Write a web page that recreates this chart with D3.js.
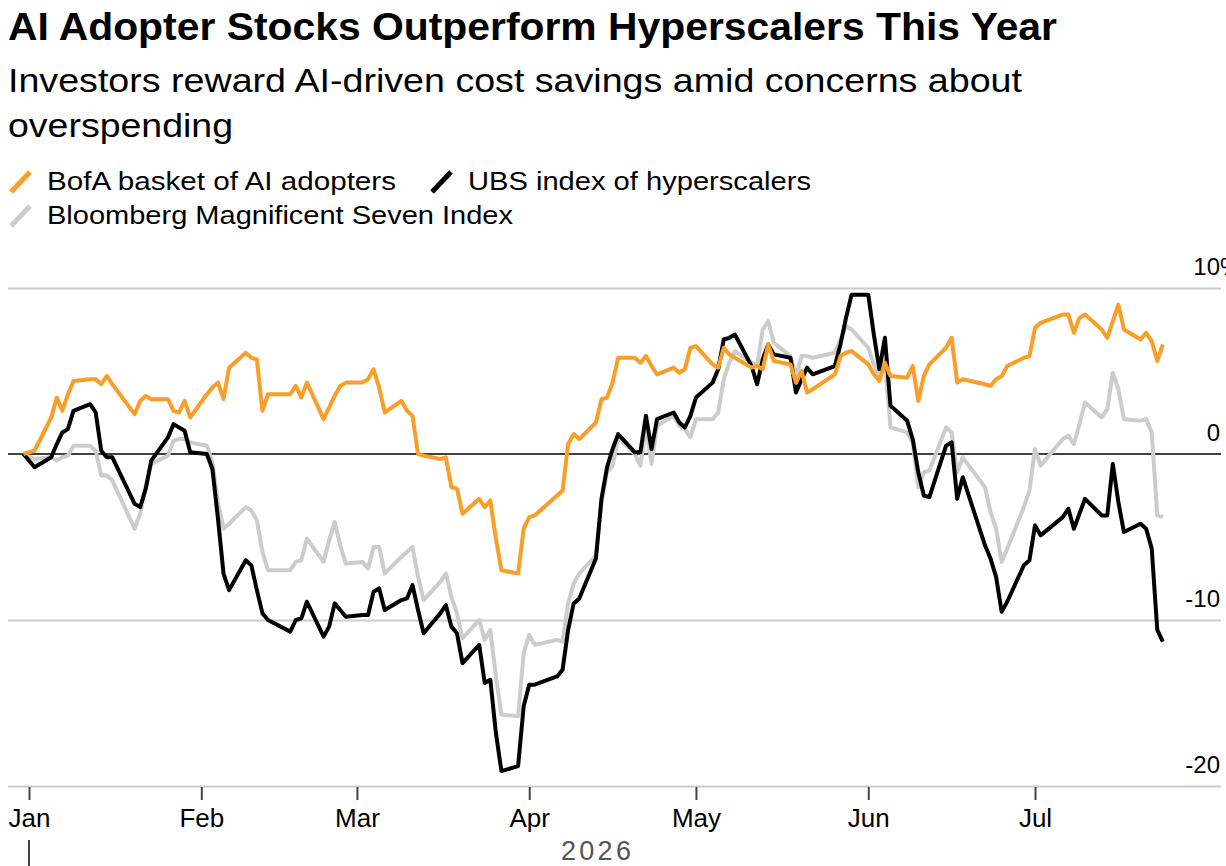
<!DOCTYPE html>
<html>
<head>
<meta charset="utf-8">
<script src="https://cdn.jsdelivr.net/npm/d3@7"></script>
<style>
  body { margin: 0; background: #fff; }
  svg { display: block; font-family: "Liberation Sans", Arial, sans-serif; }
</style>
</head>
<body>
<div id="chart"></div>
<script>
// Trading days, 2025-12-31 base date through 2026-07-24
var dates = [
  "2025-12-31",
  "2026-01-02","2026-01-05","2026-01-06","2026-01-07","2026-01-08","2026-01-09","2026-01-12","2026-01-13","2026-01-14","2026-01-15",
  "2026-01-16","2026-01-20","2026-01-21","2026-01-22","2026-01-23","2026-01-26","2026-01-27","2026-01-28","2026-01-29","2026-01-30",
  "2026-02-02","2026-02-03","2026-02-04","2026-02-05","2026-02-06","2026-02-09","2026-02-10","2026-02-11","2026-02-12","2026-02-13",
  "2026-02-17","2026-02-18","2026-02-19","2026-02-20","2026-02-23","2026-02-24","2026-02-25","2026-02-26","2026-02-27",
  "2026-03-02","2026-03-03","2026-03-04","2026-03-05","2026-03-06","2026-03-09","2026-03-10","2026-03-11","2026-03-12","2026-03-13",
  "2026-03-16","2026-03-17","2026-03-18","2026-03-19","2026-03-20","2026-03-23","2026-03-24","2026-03-25","2026-03-26","2026-03-27",
  "2026-03-30","2026-03-31",
  "2026-04-01","2026-04-02","2026-04-06","2026-04-07","2026-04-08","2026-04-09","2026-04-10","2026-04-13","2026-04-14","2026-04-15",
  "2026-04-16","2026-04-17","2026-04-20","2026-04-21","2026-04-22","2026-04-23","2026-04-24","2026-04-27","2026-04-28","2026-04-29",
  "2026-04-30",
  "2026-05-01","2026-05-04","2026-05-05","2026-05-06","2026-05-07","2026-05-08","2026-05-11","2026-05-12","2026-05-13","2026-05-14",
  "2026-05-15","2026-05-18","2026-05-19","2026-05-20","2026-05-21","2026-05-22","2026-05-26","2026-05-27","2026-05-28","2026-05-29",
  "2026-06-01","2026-06-02","2026-06-03","2026-06-04","2026-06-05","2026-06-08","2026-06-09","2026-06-10","2026-06-11","2026-06-12",
  "2026-06-15","2026-06-16","2026-06-17","2026-06-18","2026-06-22","2026-06-23","2026-06-24","2026-06-25","2026-06-26","2026-06-29",
  "2026-06-30",
  "2026-07-01","2026-07-02","2026-07-06","2026-07-07","2026-07-08","2026-07-09","2026-07-10","2026-07-13","2026-07-14","2026-07-15",
  "2026-07-16","2026-07-17","2026-07-20","2026-07-21","2026-07-22","2026-07-23","2026-07-24"
];

// % change since year start
var bofaAdopters = [
  0,
  0.2, 2.2, 3.4, 2.6, 3.6, 4.4, 4.5, 4.5, 4.2, 4.7, 4.2, 2.4, 3.2, 3.5, 3.3, 3.3, 2.6, 2.5, 3.2, 2.2,
  3.6, 4.0, 4.3, 3.3, 5.2, 6.1, 5.8, 5.7, 2.6, 3.6, 3.6, 4.1, 3.4, 4.3, 2.1, 2.8, 3.5, 4.1, 4.3,
  4.3, 4.5, 5.1, 4.0, 2.5, 3.2, 2.6, 2.3, 0.0, -0.1, -0.3, -0.2, -2.0, -2.1, -3.6, -2.7, -3.2, -2.8, -5.1, -7.0, -7.2, -4.5,
  -3.8, -3.7, -2.5, -2.2, 0.6, 1.2, 0.9, 1.9, 3.3, 3.4, 4.3, 5.8, 5.8, 5.5, 5.9, 5.3, 4.8, 5.2, 4.9, 5.1, 6.4,
  6.5, 5.4, 5.2, 6.4, 6.0, 5.8, 5.2, 5.3, 5.1, 6.6, 5.6, 5.4, 4.3, 5.0, 3.7, 3.9, 4.8, 5.9, 6.1, 6.2,
  5.4, 4.8, 4.4, 5.5, 4.7, 4.6, 5.3, 3.2, 4.7, 5.4, 6.4, 7.0, 4.3, 4.5, 4.2, 4.1, 4.5, 4.7, 5.3, 5.8, 5.9,
  7.6, 7.9, 8.4, 8.4, 7.3, 8.2, 8.4, 7.5, 7.0, 8.0, 9.0, 7.5, 6.9, 7.3, 6.8, 5.6, 6.6
];
var ubsHyperscalers = [
  0,
  -0.8, -0.2, 0.6, 1.3, 1.5, 2.6, 3.0, 2.5, 0.2, -0.2, -0.2, -3.0, -3.2, -2.1, -0.4, 1.0, 1.8, 1.6, 1.4, 0.1,
  0.0, -0.9, -3.9, -7.2, -8.2, -6.4, -6.7, -8.2, -9.6, -10.0, -10.7, -10.0, -9.9, -8.9, -11.0, -10.4, -9.0, -9.4, -9.8,
  -9.7, -9.7, -8.3, -8.1, -9.4, -8.8, -8.7, -7.9, -9.4, -10.8, -9.6, -9.1, -10.4, -10.8, -12.6, -11.5, -13.8, -13.6, -16.8, -19.1, -18.8, -15.2,
  -13.9, -13.9, -13.4, -13.0, -10.6, -9.0, -8.7, -6.3, -2.7, -0.8, 0.3, 1.2, 0.1, 0.1, 2.3, 0.3, 2.1, 2.5, 1.9, 1.6, 2.3,
  3.4, 4.3, 5.1, 6.9, 7.0, 7.2, 5.3, 4.2, 5.7, 6.6, 6.0, 5.8, 3.7, 4.5, 5.2, 4.8, 5.3, 6.6, 8.2, 9.6,
  9.6, 7.2, 5.1, 7.0, 2.9, 2.0, 0.9, -1.1, -2.5, -2.6, 0.5, 0.7, -2.7, -1.4, -5.5, -6.3, -7.4, -9.5, -8.9, -6.7, -6.4,
  -4.3, -4.9, -3.8, -3.3, -4.5, -3.6, -2.7, -3.7, -3.7, -0.6, -2.9, -4.7, -4.2, -4.5, -5.7, -10.6, -11.3
];
var mag7Index = [
  0,
  -0.3, -0.2, -0.4, -0.2, -0.1, 0.5, 0.5, 0.2, -1.3, -1.3, -1.6, -4.5, -3.6, -1.9, -0.6, -0.1, 0.8, 0.9, 0.9, 0.7,
  0.5, -0.5, -2.9, -4.5, -4.2, -3.2, -3.4, -4.0, -5.9, -7.0, -7.0, -6.5, -6.4, -5.1, -6.5, -5.2, -4.1, -5.5, -6.6,
  -6.5, -6.9, -5.6, -5.6, -7.2, -6.2, -5.9, -5.6, -7.4, -8.8, -7.7, -7.2, -8.6, -9.6, -11.1, -10.0, -11.2, -10.6, -13.4, -15.7, -15.8, -12.0,
  -10.9, -11.5, -11.2, -11.3, -9.0, -7.8, -7.2, -6.1, -2.9, -1.1, -0.7, 1.0, 0.0, -0.7, 1.7, -0.6, 1.7, 2.3, 1.7, 1.5, 1.0,
  2.1, 2.1, 2.5, 4.5, 5.5, 6.2, 5.5, 5.3, 7.5, 8.0, 6.7, 5.9, 4.7, 5.9, 5.9, 5.8, 6.1, 6.9, 7.7, 7.5,
  6.4, 5.4, 4.5, 5.6, 1.6, 1.3, 0.7, -2.0, -1.1, -1.0, 1.6, 1.3, -1.1, -0.2, -2.0, -3.5, -4.5, -6.5, -5.7, -3.2, -2.2,
  0.3, -0.7, 0.9, 1.1, 0.6, 1.8, 3.1, 2.2, 2.7, 4.9, 3.9, 2.1, 2.0, 2.1, 1.3, -3.7, -3.8
];

var seriesNames = ["BofA basket of AI adopters", "UBS index of hyperscalers", "Bloomberg Magnificent Seven Index"];
var seriesColors = ["#f99e27", "#000000", "#cccccc"];
var yTicks = [10, 0, -10, -20];
var monthTicks = ["2026-01-01","2026-02-01","2026-03-01","2026-04-01","2026-05-01","2026-06-01","2026-07-01"];
var yearLabel = "2026";

var svgWidth = 1226;
var svgHeight = 866;

var svg = d3.select("#chart")
  .append("svg")
  .attr("width", svgWidth)
  .attr("height", svgHeight);

var parseDate = d3.timeParse("%Y-%m-%d");
var dateObjs = dates.map(parseDate);

// Scales
var xScale = d3.scaleTime()
  .domain([parseDate("2026-01-01"), parseDate("2026-07-01")])
  .range([29, 1035]);

var yScale = d3.scaleLinear()
  .domain([-20, 10])
  .range([786, 288]);

var gridLeft = 8, gridRight = 1221;

// Title / subtitle
svg.append("text")
  .attr("x", 8).attr("y", 40)
  .attr("font-size", 38).attr("font-weight", "bold")
  .attr("textLength", 1049).attr("lengthAdjust", "spacingAndGlyphs")
  .text("AI Adopter Stocks Outperform Hyperscalers This Year");

svg.append("text")
  .attr("x", 8).attr("y", 92)
  .attr("font-size", 34)
  .attr("textLength", 1014).attr("lengthAdjust", "spacingAndGlyphs")
  .text("Investors reward AI-driven cost savings amid concerns about");

svg.append("text")
  .attr("x", 8).attr("y", 137)
  .attr("font-size", 34)
  .attr("textLength", 225).attr("lengthAdjust", "spacingAndGlyphs")
  .text("overspending");

// Legend
var legendItems = [
  { x: 10, y: 190, w: 349 },
  { x: 431, y: 190, w: 343 },
  { x: 10, y: 224, w: 466 }
];
legendItems.forEach(function(item, i) {
  svg.append("line")
    .attr("x1", item.x + 1).attr("y1", item.y + 2)
    .attr("x2", item.x + 20).attr("y2", item.y - 18)
    .attr("stroke", seriesColors[i])
    .attr("stroke-width", 5);
  svg.append("text")
    .attr("x", item.x + 37).attr("y", item.y)
    .attr("font-size", 26)
    .attr("textLength", item.w).attr("lengthAdjust", "spacingAndGlyphs")
    .text(seriesNames[i]);
});

// Gridlines
var gridAxis = d3.axisLeft(yScale)
  .tickValues(yTicks.filter(function(d) { return d !== 0; }))
  .tickSize(gridRight - gridLeft)
  .tickFormat("");

svg.append("g")
  .attr("transform", `translate(${gridRight},0)`)
  .call(gridAxis)
  .call(function(g) {
    g.select(".domain").remove();
    g.selectAll(".tick line").attr("stroke", "#cccccc").attr("stroke-width", 2);
  });

// Zero line
svg.append("line")
  .attr("x1", gridLeft).attr("x2", gridRight)
  .attr("y1", yScale(0)).attr("y2", yScale(0))
  .attr("stroke", "#000").attr("stroke-width", 1.5);

// Y labels
var yLabelAxis = d3.axisLeft(yScale)
  .tickValues(yTicks)
  .tickSize(0)
  .tickPadding(0)
  .tickFormat(function(d) { return String(d); });

svg.append("g")
  .attr("transform", "translate(1220,0)")
  .call(yLabelAxis)
  .call(function(g) {
    g.select(".domain").remove();
    g.selectAll(".tick text")
      .attr("font-family", "Liberation Sans, Arial, sans-serif")
      .attr("font-size", 24)
      .attr("fill", "#000")
      .attr("dy", -14);
    g.selectAll(".tick").filter(function(d) { return d === 10; })
      .append("text")
      .attr("x", 0).attr("dy", -14)
      .attr("text-anchor", "start")
      .attr("font-family", "Liberation Sans, Arial, sans-serif")
      .attr("font-size", 24)
      .attr("fill", "#000")
      .text("%");
  });

// X axis
var xAxis = d3.axisBottom(xScale)
  .tickValues(monthTicks.map(parseDate))
  .tickSize(13)
  .tickPadding(0)
  .tickFormat(d3.timeFormat("%b"));

svg.append("g")
  .attr("transform", "translate(0,787)")
  .call(xAxis)
  .call(function(g) {
    g.select(".domain").remove();
    g.selectAll(".tick line").attr("stroke", "#444").attr("stroke-width", 2);
    g.selectAll(".tick text")
      .attr("font-family", "Liberation Sans, Arial, sans-serif")
      .attr("font-size", 26)
      .attr("fill", "#000")
      .attr("y", 40).attr("dy", 0);
  });

// Year label
svg.append("line")
  .attr("x1", xScale(parseDate("2026-01-01"))).attr("x2", xScale(parseDate("2026-01-01")))
  .attr("y1", 840).attr("y2", 866)
  .attr("stroke", "#444").attr("stroke-width", 2);

svg.append("text")
  .attr("x", (xScale(parseDate("2026-01-01")) + xScale(dateObjs[dateObjs.length - 1])) / 2)
  .attr("y", 860)
  .attr("text-anchor", "middle")
  .attr("font-size", 27)
  .attr("fill", "#555")
  .attr("textLength", 70).attr("lengthAdjust", "spacing")
  .text(yearLabel);

// Lines
var line = d3.line()
  .x(function(d) { return xScale(d.date); })
  .y(function(d) { return yScale(d.value); });

var seriesData = [bofaAdopters, ubsHyperscalers, mag7Index].map(function(values) {
  return values.map(function(v, i) { return { date: dateObjs[i], value: v }; });
});

// grey at the back, then black, orange on top
[2, 1, 0].forEach(function(i) {
  svg.append("path")
    .datum(seriesData[i])
    .attr("d", line)
    .attr("fill", "none")
    .attr("stroke", seriesColors[i])
    .attr("stroke-width", 4)
    .attr("stroke-linejoin", "round");
});
</script>
</body>
</html>
